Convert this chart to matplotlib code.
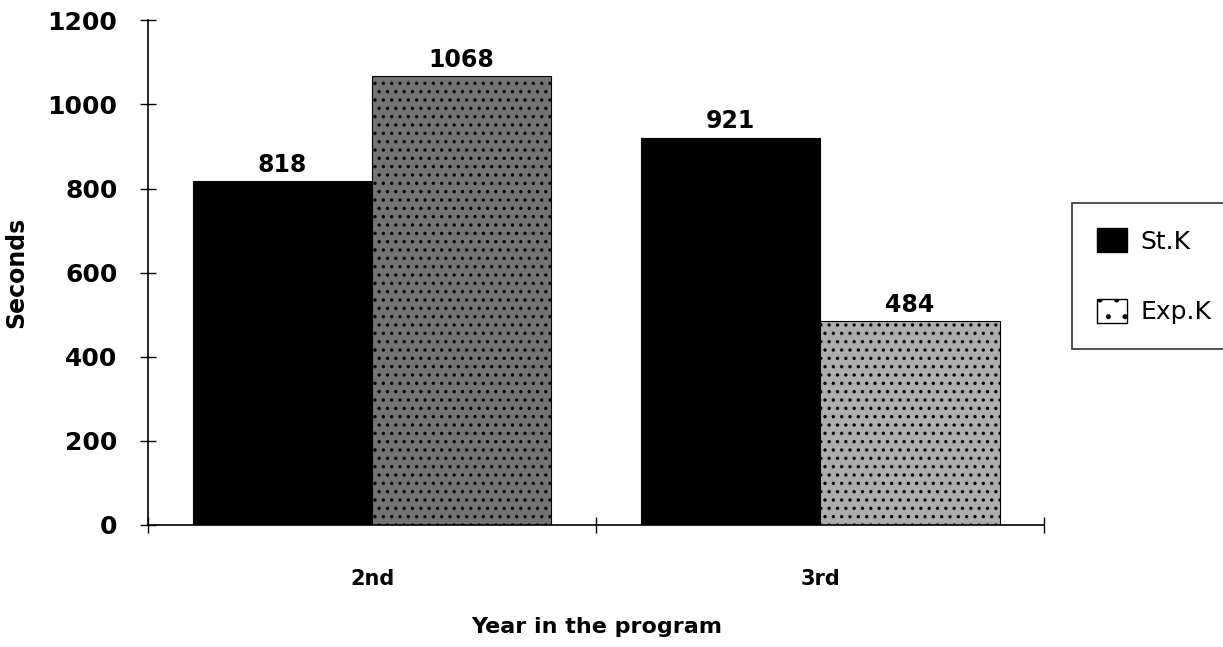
import numpy as np
import matplotlib.pyplot as plt
from matplotlib.patches import Patch

# data
years = ["2nd", "3rd"]
st_k = [818, 921]
exp_k = [1068, 484]
series_names = ["St.K", "Exp.K"]

plt.rcParams['font.family'] = ['DejaVu Sans']
plt.rcParams['hatch.linewidth'] = 1.2

fig = plt.figure(figsize=(12.23, 6.47), dpi=100)
ax = fig.add_axes([0.121, 0.1886, 0.733, 0.780])

x = np.arange(len(years))
w = 0.4
b1 = ax.bar(x - w / 2, st_k, w, color='black', edgecolor='black', linewidth=0.8)
b2 = ax.bar(x + w / 2, exp_k, w, color=['#747474', '#adadad'], edgecolor='black',
            linewidth=0.8, hatch='..')

for bars, vals in ((b1, st_k), (b2, exp_k)):
    for r, v in zip(bars, vals):
        ax.annotate(str(v), (r.get_x() + r.get_width() / 2, v), xytext=(0, 3),
                    textcoords='offset points', ha='center', va='bottom',
                    fontsize=17, fontweight='bold')

ax.set_xlim(-0.5, 1.5)
ax.set_ylim(0, 1200)
ax.set_yticks(range(0, 1201, 200))
ax.tick_params(axis='y', direction='inout', length=12, width=1, labelsize=18, pad=16)
for t in ax.get_yticklabels():
    t.set_fontweight('bold')

ax.set_xticks(x)
ax.set_xticklabels(years, fontsize=15, fontweight='bold')
ax.tick_params(axis='x', which='major', length=0, pad=32)
ax.set_xticks([-0.5, 0.5, 1.5], minor=True)
ax.tick_params(axis='x', which='minor', direction='inout', length=12, width=1)

ax.spines['top'].set_visible(False)
ax.spines['right'].set_visible(False)
ax.spines['left'].set_linewidth(1.2)
ax.spines['bottom'].set_linewidth(1.2)

ax.set_ylabel("Seconds", fontsize=17, fontweight='bold', labelpad=14)
ax.set_xlabel("Year in the program", fontsize=16, fontweight='bold', labelpad=20)

handles = [Patch(facecolor='black', edgecolor='black'),
           Patch(facecolor='white', edgecolor='black', hatch='.')]
leg = fig.legend(handles, series_names, loc='upper left', bbox_to_anchor=(0.8766, 0.6862),
                 fontsize=18, frameon=True, fancybox=False, edgecolor='black',
                 handlelength=1.2, handleheight=1.1, labelspacing=1.8,
                 borderpad=1.0, handletextpad=0.55, borderaxespad=0)
leg.get_frame().set_linewidth(1.2)

fig.savefig("out.png", dpi=100)
